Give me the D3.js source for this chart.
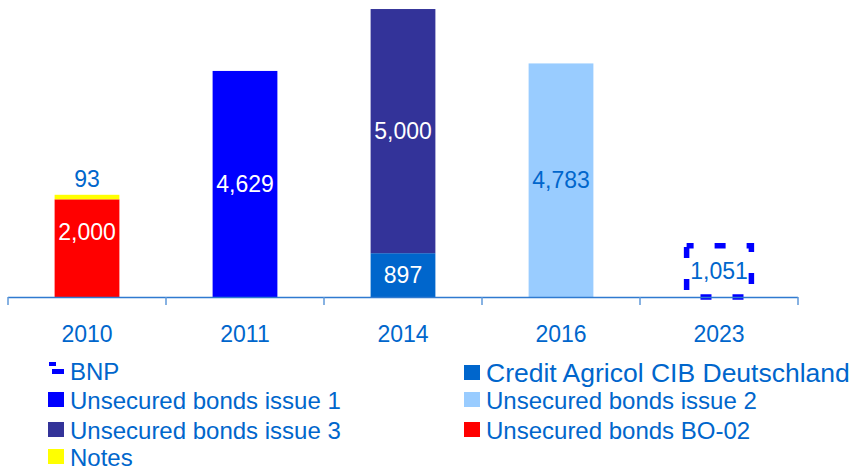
<!DOCTYPE html>
<html>
<head>
<meta charset="utf-8">
<script src="https://cdn.jsdelivr.net/npm/d3@7/dist/d3.min.js"></script>
<style>
  html, body { margin: 0; padding: 0; background: #fff; }
  svg { display: block; font-family: "Liberation Sans", Arial, sans-serif; }
</style>
</head>
<body>
<svg id="chart" width="853" height="469"></svg>
<script>
// Maturity years on the x axis
const categories = ["2010", "2011", "2014", "2016", "2023"];

// Amounts per issuer / instrument, one value per year
const bnp            = [0, 0, 0, 0, 1051];
const creditAgricol  = [0, 0, 897, 0, 0];
const unsecured1     = [0, 4629, 0, 0, 0];
const unsecured2     = [0, 0, 0, 4783, 0];
const unsecured3     = [0, 0, 5000, 0, 0];
const unsecuredBO02  = [2000, 0, 0, 0, 0];
const notes          = [93, 0, 0, 0, 0];

const seriesNames = [
  "BNP", "Credit Agricol CIB Deutschland", "Unsecured bonds issue 1",
  "Unsecured bonds issue 2", "Unsecured bonds issue 3",
  "Unsecured bonds BO-02", "Notes"
];
const seriesValues = [bnp, creditAgricol, unsecured1, unsecured2, unsecured3, unsecuredBO02, notes];

const colors = {
  "BNP": "#0000FF",
  "Credit Agricol CIB Deutschland": "#0066CC",
  "Unsecured bonds issue 1": "#0000FF",
  "Unsecured bonds issue 2": "#99CCFF",
  "Unsecured bonds issue 3": "#333399",
  "Unsecured bonds BO-02": "#FF0000",
  "Notes": "#FFFF00"
};
const labelColors = {
  "BNP": "#0066CC",
  "Credit Agricol CIB Deutschland": "#FFFFFF",
  "Unsecured bonds issue 1": "#FFFFFF",
  "Unsecured bonds issue 2": "#0066CC",
  "Unsecured bonds issue 3": "#FFFFFF",
  "Unsecured bonds BO-02": "#FFFFFF",
  "Notes": "#0066CC"
};
const textBlue = "#0066CC";

const table = categories.map((c, i) => {
  const row = { year: c };
  seriesNames.forEach((s, k) => { row[s] = seriesValues[k][i]; });
  return row;
});

const svg = d3.select("#chart");

const x = d3.scaleBand()
  .domain(categories)
  .range([8, 798])
  .paddingInner(0.59)
  .paddingOuter(0.295);

const y = d3.scaleLinear().domain([0, 6000]).range([297, 4]);

const stacked = d3.stack().keys(seriesNames)(table);

const fmt = d3.format(",");

// Bars
stacked.forEach(layer => {
  const name = layer.key;
  const g = svg.append("g");
  layer.forEach((d, i) => {
    const v = d[1] - d[0];
    if (!v) return;
    const x0 = x(categories[i]);
    const top = y(d[1]), bot = y(d[0]);
    if (name === "BNP") {
      g.append("rect")
        .attr("x", x0).attr("y", top)
        .attr("width", x.bandwidth()).attr("height", bot - top)
        .attr("fill", "none")
        .attr("stroke", colors[name])
        .attr("stroke-width", 5.5)
        .attr("stroke-dasharray", "11,21")
        .attr("stroke-dashoffset", 4);
    } else {
      g.append("rect")
        .attr("x", x0).attr("y", top)
        .attr("width", x.bandwidth()).attr("height", bot - top)
        .attr("fill", colors[name]);
    }
  });
});

// Value labels
stacked.forEach(layer => {
  const name = layer.key;
  layer.forEach((d, i) => {
    const v = d[1] - d[0];
    if (!v) return;
    const cx = x(categories[i]) + x.bandwidth() / 2;
    let cy;
    if (name === "Notes") {
      cy = y(d[1]) - 16;
    } else if (name === "Unsecured bonds BO-02") {
      cy = y(d[1]) + 33;
    } else {
      cy = (y(d[0]) + y(d[1])) / 2;
    }
    svg.append("text")
      .attr("x", cx).attr("y", cy)
      .attr("text-anchor", "middle")
      .attr("dominant-baseline", "central")
      .attr("font-size", 23)
      .attr("fill", labelColors[name])
      .text(fmt(v));
  });
});

// Category axis
const axis = d3.axisBottom(x).tickSize(0).tickPadding(29);
const ax = svg.append("g").attr("transform", `translate(0,${y(0)})`).call(axis);
ax.select(".domain").remove();
ax.selectAll("text")
  .attr("font-size", 23)
  .attr("fill", textBlue)
  .attr("font-family", "Liberation Sans, Arial, sans-serif");

const step = x.step();
const edges = d3.range(categories.length + 1).map(i => 8 + i * step);
svg.append("line")
  .attr("x1", 8).attr("x2", edges[edges.length - 1])
  .attr("y1", y(0) + 0.5).attr("y2", y(0) + 0.5)
  .attr("stroke", "#2F7AD0").attr("stroke-width", 1.5);
svg.selectAll(".edgetick").data(edges).enter().append("line")
  .attr("x1", d => d).attr("x2", d => d)
  .attr("y1", y(0)).attr("y2", y(0) + 8)
  .attr("stroke", "#5F98D8").attr("stroke-width", 1.5);

// Legend
const legendItems = [
  { name: "BNP", col: 0, row: 0 },
  { name: "Credit Agricol CIB Deutschland", col: 1, row: 0, size: 26.5 },
  { name: "Unsecured bonds issue 1", col: 0, row: 1 },
  { name: "Unsecured bonds issue 2", col: 1, row: 1 },
  { name: "Unsecured bonds issue 3", col: 0, row: 2 },
  { name: "Unsecured bonds BO-02", col: 1, row: 2 },
  { name: "Notes", col: 0, row: 3 }
];
const colX = [48, 464];
const rowY = [371, 400, 430, 457];
legendItems.forEach(it => {
  const lx = colX[it.col], ly = rowY[it.row] + (it.col === 1 && it.row === 0 ? 2 : 0);
  const g = svg.append("g");
  if (it.name === "BNP") {
    g.append("rect").attr("x", lx + 1).attr("y", ly - 9).attr("width", 7).attr("height", 4).attr("fill", colors.BNP);
    g.append("rect").attr("x", lx + 4).attr("y", ly - 2).attr("width", 12).attr("height", 5).attr("fill", colors.BNP);
  } else {
    g.append("rect").attr("x", lx).attr("y", ly - 8).attr("width", 16).attr("height", 15).attr("fill", colors[it.name]);
  }
  g.append("text")
    .attr("x", lx + 22).attr("y", ly)
    .attr("dominant-baseline", "central")
    .attr("font-size", it.size || 24)
    .attr("fill", textBlue)
    .text(it.name);
});
</script>
</body>
</html>
